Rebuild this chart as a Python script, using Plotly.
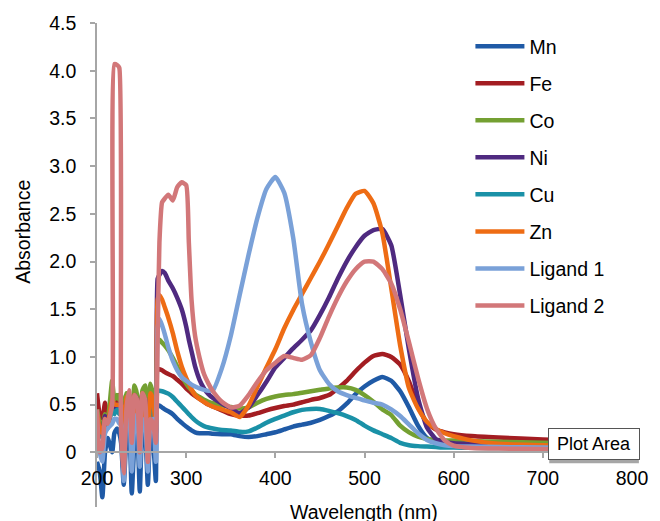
import plotly.graph_objects as go

# Wavelength grid (nm): noisy UV region, then smooth region
wl_noise = [200, 203, 206, 209, 212, 217, 219.5, 222.5, 225, 227, 230, 233,
            236, 239, 242, 245, 248, 251, 254, 257, 260, 263, 266]
wl_smooth = [268, 270, 273, 276, 280, 285, 290, 295, 300, 303, 306, 310,
             315, 320, 325, 330, 340, 350, 360, 370, 380, 390, 400, 410,
             420, 430, 440, 450, 460, 470, 480, 490, 500, 510, 520, 530,
             540, 550, 560, 570, 580, 590, 600, 620, 650, 700, 750, 800]
wavelength = wl_noise + wl_smooth

mn = [-0.1, -0.2, -0.47, 0.0, 0.15, 0.0, 0.2, 0.25, 0.2, 0.1, -0.34, 0.15,
      0.3, -0.43, 0.1, 0.25, -0.41, 0.2, 0.15, -0.34, 0.2, 0.1, -0.3,
      0.49, 0.49, 0.47, 0.45, 0.43, 0.40, 0.35, 0.31, 0.27, 0.25, 0.23, 0.21,
      0.2, 0.2, 0.2, 0.195, 0.19, 0.19, 0.17, 0.16, 0.17, 0.19, 0.21, 0.24,
      0.27, 0.29, 0.31, 0.34, 0.38, 0.43, 0.51, 0.61, 0.69, 0.75, 0.79, 0.75,
      0.64, 0.47, 0.28, 0.15, 0.1, 0.08, 0.07, 0.065, 0.06, 0.055, 0.05, 0.045]
fe = [0.62, 0.4, 0.35, 0.52, 0.3, 0.6, 0.5, 0.55, 0.6, 0.5, 0.1, 0.6,
      0.55, 0.2, 0.62, 0.5, 0.15, 0.6, 0.55, 0.1, 0.6, 0.5, 0.2,
      0.87, 0.87, 0.86, 0.84, 0.82, 0.8, 0.76, 0.72, 0.67, 0.645, 0.62, 0.59,
      0.56, 0.53, 0.5, 0.48, 0.44, 0.40, 0.385, 0.385, 0.41, 0.44, 0.465, 0.485,
      0.5, 0.525, 0.55, 0.57, 0.6, 0.67, 0.75, 0.85, 0.94, 1.01, 1.03, 1.0,
      0.92, 0.74, 0.48, 0.31, 0.24, 0.21, 0.19, 0.17, 0.155, 0.135, 0.12, 0.11]
co = [0.45, 0.3, 0.25, 0.4, 0.35, 0.75, 0.55, 0.6, 0.55, 0.6, 0.2, 0.62,
      0.6, 0.3, 0.7, 0.6, 0.3, 0.65, 0.7, 0.2, 0.72, 0.6, 0.4,
      1.18, 1.18, 1.15, 1.12, 1.07, 0.99, 0.9, 0.8, 0.72, 0.68, 0.65, 0.61,
      0.58, 0.55, 0.53, 0.515, 0.495, 0.475, 0.46, 0.47, 0.52, 0.56, 0.585, 0.6,
      0.61, 0.625, 0.64, 0.655, 0.67, 0.68, 0.68, 0.655, 0.6, 0.53, 0.45, 0.39,
      0.28, 0.21, 0.165, 0.14, 0.13, 0.125, 0.125, 0.12, 0.11, 0.1, 0.09, 0.08]
ni = [0.35, 0.25, 0.2, 0.38, 0.3, 0.5, 0.45, 0.5, 0.5, 0.45, 0.1, 0.55,
      0.5, 0.2, 0.6, 0.55, 0.2, 0.6, 0.55, 0.1, 0.6, 0.5, 0.3,
      1.82, 1.86, 1.9, 1.88, 1.8, 1.72, 1.62, 1.5, 1.32, 1.18, 1.06, 0.9,
      0.76, 0.67, 0.61, 0.57, 0.51, 0.46, 0.41, 0.47, 0.6, 0.74, 0.89, 0.99,
      1.09, 1.18, 1.28, 1.44, 1.62, 1.82, 2.0, 2.15, 2.27, 2.33, 2.34, 2.17,
      1.65, 1.07, 0.57, 0.26, 0.14, 0.11, 0.095, 0.085, 0.075, 0.065, 0.06, 0.055]
cu = [0.3, 0.2, 0.15, 0.3, 0.25, 0.45, 0.4, 0.45, 0.4, 0.4, 0.05, 0.5,
      0.45, 0.1, 0.5, 0.45, 0.15, 0.5, 0.5, 0.05, 0.5, 0.45, 0.2,
      0.645, 0.645, 0.64, 0.63, 0.615, 0.58, 0.53, 0.48, 0.43, 0.40, 0.37, 0.335,
      0.3, 0.275, 0.26, 0.25, 0.235, 0.23, 0.215, 0.22, 0.26, 0.31, 0.35, 0.385,
      0.42, 0.445, 0.455, 0.455, 0.435, 0.41, 0.38, 0.34, 0.28, 0.23, 0.19, 0.15,
      0.1, 0.075, 0.065, 0.06, 0.055, 0.05, 0.05, 0.048, 0.045, 0.042, 0.04, 0.038]
zn = [0.4, 0.25, 0.2, 0.35, 0.3, 0.55, 0.5, 0.5, 0.5, 0.5, 0.1, 0.58,
      0.55, 0.15, 0.6, 0.45, 0.2, 0.62, 0.4, 0.1, 0.62, 0.55, 0.25,
      1.6, 1.65, 1.6, 1.52, 1.41, 1.25, 1.06, 0.9, 0.78, 0.72, 0.66, 0.6,
      0.56, 0.53, 0.5, 0.48, 0.45, 0.42, 0.37, 0.49, 0.69, 0.89, 1.08, 1.3,
      1.49, 1.66, 1.83, 2.0, 2.18, 2.37, 2.56, 2.71, 2.74, 2.61, 2.3, 1.72,
      1.12, 0.67, 0.46, 0.32, 0.245, 0.2, 0.17, 0.125, 0.09, 0.075, 0.06, 0.05]
ligand1 = [0.25, 0.0, -0.1, 0.2, 0.25, 0.3, 0.35, 0.35, 0.3, 0.3, -0.3, 0.35,
           0.4, -0.2, 0.3, 0.4, -0.15, 0.35, 0.3, -0.2, 0.3, 0.35, -0.1,
           1.3, 1.4, 1.33, 1.24, 1.1, 0.96, 0.86, 0.79, 0.75, 0.73, 0.71, 0.69,
           0.67, 0.655, 0.645, 0.65, 0.88, 1.22, 1.65, 2.07, 2.46, 2.76, 2.885, 2.72,
           2.25, 1.55, 1.15, 0.86, 0.72, 0.64, 0.6, 0.57, 0.545, 0.52, 0.5, 0.45,
           0.38, 0.29, 0.2, 0.13, 0.095, 0.075, 0.065, 0.06, 0.055, 0.05, 0.048, 0.045]
ligand2 = [0.45, 0.0, 0.05, 0.35, 0.3, 0.5, 4.07, 4.06, 4.03, 0.2, -0.22, 0.45,
           0.65, 0.1, 0.6, 0.55, 0.0, 0.62, 0.55, -0.1, 0.35, 0.3, 0.1,
           1.2, 2.2, 2.62, 2.66, 2.7, 2.64, 2.78, 2.83, 2.8, 2.2, 1.6, 1.22,
           0.99, 0.82, 0.72, 0.64, 0.53, 0.47, 0.49, 0.6, 0.74, 0.86, 0.94, 1.01,
           0.99, 0.97, 1.02, 1.2, 1.42, 1.62, 1.79, 1.92, 2.0, 2.0, 1.92, 1.77,
           1.5, 1.15, 0.78, 0.46, 0.25, 0.125, 0.07, 0.045, 0.04, 0.035, 0.03, 0.03]

series_names = ["Mn", "Fe", "Co", "Ni", "Cu", "Zn", "Ligand 1", "Ligand 2"]
series_values = [mn, fe, co, ni, cu, zn, ligand1, ligand2]
series_colors = ["#1f5aa6", "#a31d22", "#74a032", "#4f2a80",
                 "#1a91a7", "#ee6c14", "#7aa1d8", "#d27779"]

x_ticks = [200, 300, 400, 500, 600, 700, 800]
y_ticks = [0, 0.5, 1.0, 1.5, 2.0, 2.5, 3.0, 3.5, 4.0, 4.5]
y_tick_labels = ["0", "0.5", "1.0", "1.5", "2.0", "2.5", "3.0", "3.5", "4.0", "4.5"]

FONT = "Liberation Sans, Arial, Helvetica, sans-serif"
YMIN, YMAX = -0.573, 4.5
L, R, T, B = 97, 20, 20, 14
PW, PH = 660 - L - R, 521 - T - B


def px_x(p):
    return (p - L) / PW


def px_y(p):
    return (521 - B - p) / PH


fig = go.Figure()
for i, (name, vals, col) in enumerate(zip(series_names, series_values, series_colors)):
    fig.add_trace(go.Scatter(
        x=wavelength, y=vals, name=name, mode="lines",
        line=dict(color=col, width=4.5, shape="spline", smoothing=0.5),
        legendgroup="g%d" % i, hoverinfo="skip",
    ))

fig.update_layout(
    width=660, height=521,
    margin=dict(l=L, r=R, t=T, b=B),
    paper_bgcolor="white", plot_bgcolor="white",
    font=dict(family=FONT, size=19, color="black"),
    showlegend=True,
    legend=dict(
        x=px_x(476), xanchor="left", y=px_y(24), yanchor="top",
        font=dict(family=FONT, size=19.5, color="black"),
        bgcolor="rgba(0,0,0,0)", borderwidth=0,
        tracegroupgap=8.7, itemwidth=49,
    ),
    xaxis=dict(
        range=[200, 800], tickvals=x_ticks,
        anchor="free", position=(0 - YMIN) / (YMAX - YMIN),
        showline=True, linecolor="#a6a6a6", linewidth=1.5,
        ticks="outside", ticklen=5, tickcolor="#a6a6a6", tickwidth=1.5,
        showgrid=False, zeroline=False, ticklabelstandoff=4,
        tickfont=dict(family=FONT, size=19.5, color="black"),
    ),
    yaxis=dict(
        range=[YMIN, YMAX], tickvals=y_ticks, ticktext=y_tick_labels,
        showline=True, linecolor="#a6a6a6", linewidth=1.5,
        ticks="outside", ticklen=5, tickcolor="#a6a6a6", tickwidth=1.5,
        showgrid=False, zeroline=False, ticklabelstandoff=10,
        tickfont=dict(family=FONT, size=19.5, color="black"),
    ),
    annotations=[
        dict(text="Absorbance", textangle=-90, xref="paper", yref="paper",
             x=px_x(22), y=px_y(230), xanchor="center", yanchor="middle",
             showarrow=False, font=dict(family=FONT, size=19.5, color="black")),
        dict(text="Wavelength (nm)", xref="paper", yref="paper",
             x=px_x(368), y=px_y(512), xanchor="center", yanchor="middle",
             showarrow=False, font=dict(family=FONT, size=19.5, color="black")),
        dict(text="Plot Area", xref="paper", yref="paper",
             x=px_x(601), y=px_y(444), xanchor="center", yanchor="middle",
             showarrow=False, width=88, height=28, bgcolor="white",
             bordercolor="#555555", borderwidth=1, borderpad=1,
             font=dict(family=FONT, size=18, color="black")),
    ],
    shapes=[
        dict(type="rect", xref="paper", yref="paper", layer="above",
             x0=px_x(556), x1=px_x(647), y0=px_y(463), y1=px_y(432),
             fillcolor="rgba(0,0,0,0.35)", line=dict(width=0)),
    ],
)

fig.write_html("out.html", config={"displayModeBar": False},
               post_script="document.body.style.margin='0';")
